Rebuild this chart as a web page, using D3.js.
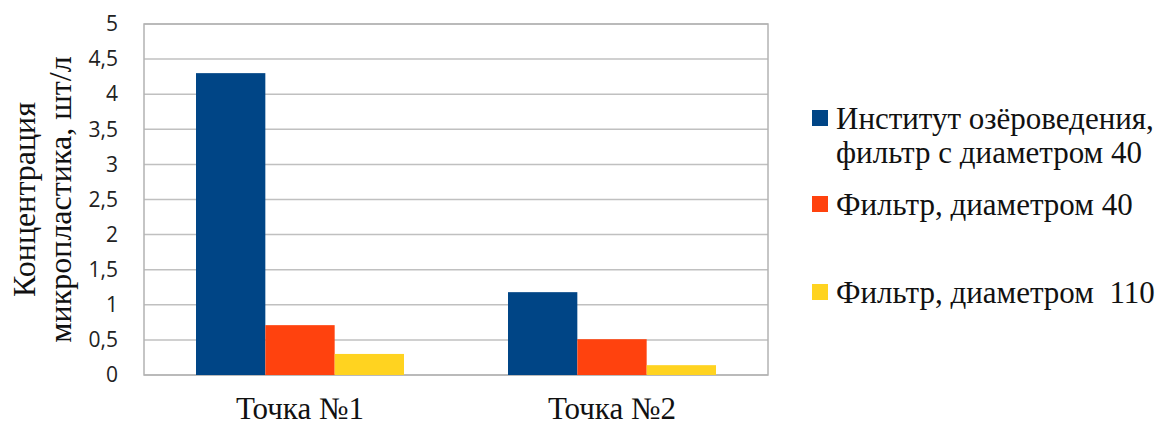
<!DOCTYPE html>
<html lang="ru">
<head>
<meta charset="utf-8">
<title>Концентрация микропластика</title>
<script src="https://cdn.jsdelivr.net/npm/d3@7"></script>
<style>
  body { margin: 0; background: #fff; }
  .sans { font-family: "Open Sans", "Liberation Sans", sans-serif; }
  .serif { font-family: "Liberation Serif", "Times New Roman", Times, serif; }
</style>
</head>
<body>
<div id="chart"></div>
<script>
// data
const points = ["Точка №1", "Точка №2"];
const seriesNames = ["Институт озёроведения,|фильтр с диаметром 40", "Фильтр, диаметром 40", "Фильтр, диаметром  110"];
const inst40 = [4.3, 1.18];
const filter40 = [0.71, 0.51];
const filter110 = [0.3, 0.14];
const yTicks = [0, 0.5, 1, 1.5, 2, 2.5, 3, 3.5, 4, 4.5, 5];
const colors = ["#004586", "#ff420e", "#ffd320"];

const seriesVals = [inst40, filter40, filter110];

const W = 1167, H = 426;
const margin = {top: 24, right: 399, bottom: 51, left: 144};
const w = W - margin.left - margin.right;
const h = H - margin.top - margin.bottom;

const svg = d3.select("#chart").append("svg")
  .attr("width", W)
  .attr("height", H);

const g = svg.append("g")
  .attr("transform", "translate(" + margin.left + "," + margin.top + ")");

const x0 = d3.scaleBand().domain(points).range([0, w]).paddingInner(1 / 3).paddingOuter(1 / 6);
const x1 = d3.scaleBand().domain(d3.range(seriesVals.length)).range([0, x0.bandwidth()]);
const y = d3.scaleLinear().domain([0, 5]).range([h, 0]);

// gridlines
g.append("g")
  .selectAll("line")
  .data(yTicks)
  .join("line")
    .attr("x1", 0).attr("x2", w)
    .attr("y1", d => y(d)).attr("y2", d => y(d))
    .attr("stroke", "#c0c0c0")
    .attr("stroke-width", 1.5);

// plot frame
g.append("rect")
  .attr("width", w).attr("height", h)
  .attr("fill", "none")
  .attr("stroke", "#b3b3b3")
  .attr("stroke-width", 1.5);

// bars
points.forEach((p, i) => {
  g.append("g")
    .selectAll("rect")
    .data(seriesVals.map((s, k) => ({k: k, v: s[i]})))
    .join("rect")
      .attr("x", d => x0(p) + x1(d.k))
      .attr("width", x1.bandwidth())
      .attr("y", d => y(d.v))
      .attr("height", d => h - y(d.v))
      .attr("fill", d => colors[d.k]);
});

// y axis
const yAxis = g.append("g")
  .call(d3.axisLeft(y).tickValues(yTicks).tickSize(0).tickPadding(26)
    .tickFormat(d => String(d).replace(".", ",")));
yAxis.select(".domain").remove();
yAxis.attr("font-family", null).attr("font-size", null);
yAxis.selectAll("text").attr("class", "sans").style("font-size", "21px").attr("fill", "#222");

// x axis labels
const xAxis = g.append("g")
  .attr("transform", "translate(0," + h + ")")
  .call(d3.axisBottom(x0).tickSize(0));
xAxis.select(".domain").remove();
xAxis.attr("font-family", null).attr("font-size", null);
xAxis.selectAll("text")
  .attr("class", "serif")
  .attr("y", 44)
  .attr("dy", null)
  .style("font-size", "31px")
  .attr("fill", "#111");

// axis title
const title = svg.append("text")
  .attr("class", "serif")
  .attr("transform", "translate(0," + (margin.top + h / 2) + ") rotate(-90)")
  .attr("text-anchor", "middle")
  .style("font-size", "32px")
  .attr("fill", "#111");
title.append("tspan").attr("x", 0).attr("y", 35).text("Концентрация");
title.append("tspan").attr("x", 0).attr("y", 71).text("микропластика, шт/л");

// legend
const legendY = [118, 204, 292];
const legend = svg.append("g")
  .attr("class", "serif")
  .style("font-size", "31px")
  .attr("fill", "#111");

seriesNames.forEach((name, i) => {
  const row = legend.append("g").attr("transform", "translate(812," + legendY[i] + ")");
  row.append("rect")
    .attr("x", 0).attr("y", -8)
    .attr("width", 16).attr("height", 16)
    .attr("fill", colors[i]);
  name.split("|").forEach((line, j) => {
    row.append("text")
      .attr("x", 24)
      .attr("y", 11 + j * 34)
      .style("white-space", "pre")
      .text(line);
  });
});
</script>
</body>
</html>
